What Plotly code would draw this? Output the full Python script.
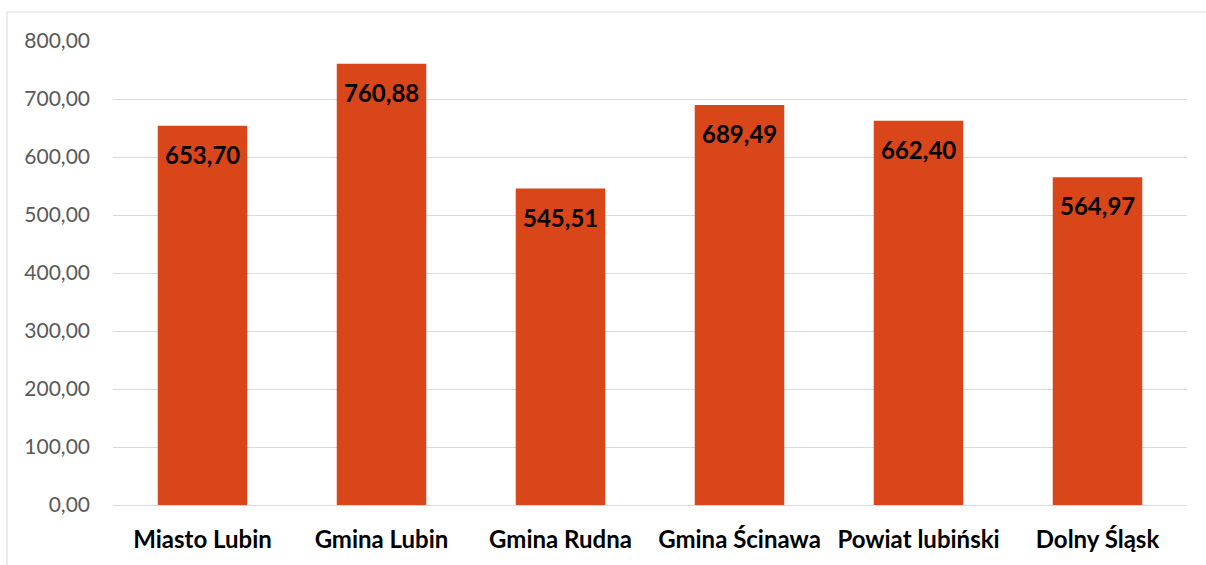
import plotly.graph_objects as go

categories = ["Miasto Lubin", "Gmina Lubin", "Gmina Rudna", "Gmina Ścinawa", "Powiat lubiński", "Dolny Śląsk"]
values = [653.70, 760.88, 545.51, 689.49, 662.40, 564.97]
tick_vals = [0, 100, 200, 300, 400, 500, 600, 700, 800]

FONT = "Lato"

fig = go.Figure()
fig.add_trace(go.Bar(
    x=categories, y=values,
    marker=dict(color="#D8461A", line=dict(width=0)),
    hoverinfo="skip",
))

for c, v in zip(categories, values):
    fig.add_annotation(
        x=c, y=v, text=f"{v:.2f}".replace(".", ","),
        showarrow=False, yanchor="top", yshift=-12,
        font=dict(family=FONT, size=24, color="#000000", weight="bold"),
    )

fig.add_shape(type="rect", xref="paper", yref="paper",
              x0=-0.0987, x1=1.2, y0=-0.3, y1=1.0625,
              line=dict(color="#D9D9D9", width=1), fillcolor="rgba(0,0,0,0)", layer="below")

fig.update_layout(
    width=1206, height=565,
    margin=dict(l=113, r=19, t=41, b=60),
    paper_bgcolor="white", plot_bgcolor="white",
    separators=", ",
    bargap=0.5,
    showlegend=False,
    font=dict(family=FONT),
)
fig.update_yaxes(
    range=[0, 800], tickvals=tick_vals, tickformat=".2f",
    showgrid=True, gridcolor="#D9D9D9", gridwidth=1,
    zeroline=True, zerolinecolor="#D9D9D9", zerolinewidth=1,
    showline=False, ticks="",
    tickfont=dict(family=FONT, size=21, color="#595959"),
    ticklabelstandoff=22,
)
fig.update_xaxes(
    showgrid=False, showline=False, ticks="",
    tickfont=dict(family=FONT, size=24, color="#000000", weight="bold"),
    ticklabelstandoff=18,
)

fig.write_html("out.html", config={"displayModeBar": False},
               post_script="document.body.style.margin='0';document.body.style.padding='0';")
